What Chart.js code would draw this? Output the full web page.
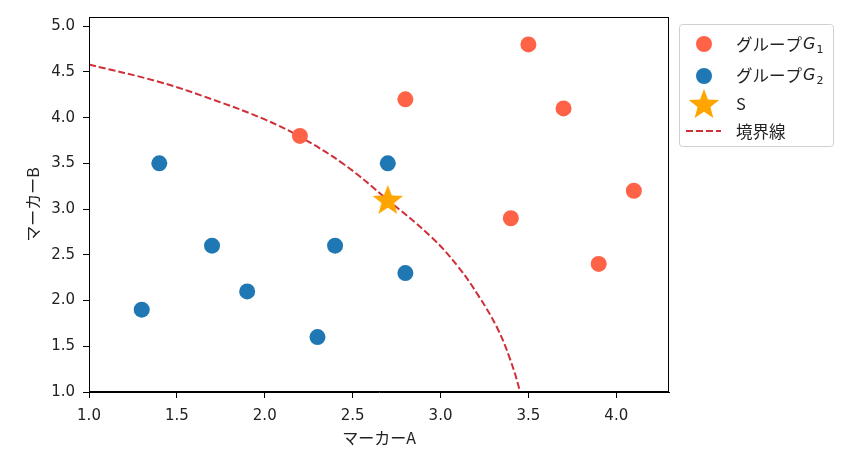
<!DOCTYPE html>
<html>
<head>
<meta charset="utf-8">
<script src="https://cdn.jsdelivr.net/npm/chart.js@4"></script>
<style>
  html, body { margin: 0; padding: 0; background: #fff; }
  #wrap { width: 841px; height: 459px; }
</style>
</head>
<body>
<div id="wrap"><canvas id="scatter"></canvas></div>
<script>
// data
var g1X = [2.2, 2.8, 3.5, 3.7, 4.1, 3.4, 3.9];
var g1Y = [3.8, 4.2, 4.8, 4.1, 3.2, 2.9, 2.4];
var g2X = [1.4, 1.3, 1.7, 1.9, 2.3, 2.4, 2.7, 2.8];
var g2Y = [3.5, 1.9, 2.6, 2.1, 1.6, 2.6, 3.5, 2.3];
var sX = [2.7];
var sY = [3.1];
// boundary line, points
var lineX = [1.0, 1.4, 1.7, 2.0, 2.2, 2.45, 2.7, 2.95, 3.1, 3.22, 3.32, 3.39, 3.45, 3.47];
var lineY = [4.58, 4.39, 4.20, 3.98, 3.79, 3.49, 3.10, 2.69, 2.37, 2.04, 1.71, 1.39, 1.02, 0.8];
var xTicks = [1.0, 1.5, 2.0, 2.5, 3.0, 3.5, 4.0];
var yTicks = [1.0, 1.5, 2.0, 2.5, 3.0, 3.5, 4.0, 4.5, 5.0];
var labels = ['グループ', 'グループ', 'S', '境界線'];

var RED = '#ff6347', BLUE = '#1f77b4', ORANGE = '#ffa500', LINE = '#cf2f36';
var CJK = '"Noto Sans CJK JP", "DejaVu Sans", sans-serif';
var TXT = '#222';

function toPts(xs, ys) {
  var out = [];
  for (var i = 0; i < xs.length; i++) out.push({x: xs[i], y: ys[i]});
  return out;
}

function starPath(c, cx, cy, r) {
  var ri = r * 0.42;
  c.beginPath();
  for (var i = 0; i < 10; i++) {
    var rr = i % 2 ? ri : r;
    var a = -Math.PI / 2 + i * Math.PI / 5;
    var px = cx + rr * Math.cos(a), py = cy + rr * Math.sin(a);
    if (i == 0) c.moveTo(px, py); else c.lineTo(px, py);
  }
  c.closePath();
}

// star image used as pointStyle
var starImg = document.createElement('canvas');
starImg.width = 34; starImg.height = 34;
var sc = starImg.getContext('2d');
starPath(sc, 17, 18, 16);
sc.fillStyle = ORANGE;
sc.fill();

// frame (top/right spines) + legend drawn by hand
var framePlugin = {
  id: 'frame',
  afterDraw: function(chart) {
    var c = chart.ctx, a = chart.chartArea;
    c.save();
    c.strokeStyle = '#000';
    c.lineWidth = 1;
    c.strokeRect(a.left + 0.5, a.top + 0.5, a.right - a.left - 1, a.bottom - a.top - 1);

    // legend box
    var bx = 679.5, by = 24.5, bw = 154, bh = 122;
    c.fillStyle = 'rgba(255,255,255,0.8)';
    c.strokeStyle = '#d0d0d0';
    c.beginPath();
    c.roundRect(bx, by, bw, bh, 3);
    c.fill();
    c.stroke();

    c.fillStyle = RED;
    c.beginPath(); c.arc(704, 44, 8, 0, Math.PI * 2); c.fill();
    c.fillStyle = BLUE;
    c.beginPath(); c.arc(704, 76, 8, 0, Math.PI * 2); c.fill();
    starPath(c, 704, 105, 16);
    c.fillStyle = ORANGE; c.fill();
    c.strokeStyle = LINE; c.lineWidth = 2; c.setLineDash([7, 3]);
    c.beginPath(); c.moveTo(686, 131); c.lineTo(721, 131); c.stroke();
    c.setLineDash([]);

    c.fillStyle = TXT;
    c.textBaseline = 'middle';
    var tx = 736;
    var rows = [45, 76, 104, 132];
    for (var i = 0; i < labels.length; i++) {
      c.font = '16.5px ' + CJK;
      c.fillText(labels[i], tx, rows[i]);
      if (i < 2) {
        var w = c.measureText(labels[i]).width;
        c.font = 'italic 16px "DejaVu Sans"';
        c.fillText('G', tx + w + 1, rows[i]);
        var gw = c.measureText('G').width;
        c.font = '11px "DejaVu Sans"';
        c.fillText(String(i + 1), tx + w + gw + 2, rows[i] + 5);
      }
    }
    c.restore();
  }
};

var tickFont = {family: '"DejaVu Sans", sans-serif', size: 15};
var titleFont = {family: CJK, size: 16};

new Chart(document.getElementById('scatter'), {
  type: 'scatter',
  data: {
    datasets: [
      {label: 'G1', data: toPts(g1X, g1Y), backgroundColor: RED, borderWidth: 0, pointRadius: 8, pointHoverRadius: 8},
      {label: 'G2', data: toPts(g2X, g2Y), backgroundColor: BLUE, borderWidth: 0, pointRadius: 8, pointHoverRadius: 8},
      {label: 'S', data: toPts(sX, sY), pointStyle: starImg, pointRadius: 16},
      {label: '境界線', type: 'line', data: toPts(lineX, lineY), borderColor: LINE, borderWidth: 2,
       borderDash: [7, 3], pointRadius: 0, fill: false, tension: 0.4, showLine: true}
    ]
  },
  options: {
    responsive: true,
    maintainAspectRatio: false,
    animation: false,
    layout: {padding: {top: 15, right: 172, left: 0, bottom: 0}},
    plugins: {legend: {display: false}, tooltip: {enabled: false}},
    scales: {
      x: {
        type: 'linear', min: 1.0, max: 4.3,
        afterBuildTicks: function(s) { s.ticks = xTicks.map(function(v) { return {value: v}; }); },
        afterFit: function(s) { s.height = 67; },
        grid: {drawOnChartArea: false, drawTicks: true, tickLength: 6, color: '#000'},
        border: {display: true, color: '#000'},
        ticks: {font: tickFont, color: TXT, padding: 9, maxRotation: 0,
          callback: function(v) { return v.toFixed(1); }},
        title: {display: true, text: 'マーカーA', font: titleFont, color: TXT, padding: {top: 0, bottom: 11}}
      },
      y: {
        type: 'linear', min: 1.0, max: 5.1,
        afterBuildTicks: function(s) { s.ticks = yTicks.map(function(v) { return {value: v}; }); },
        afterFit: function(s) { s.width = 89; },
        grid: {drawOnChartArea: false, drawTicks: true, tickLength: 6, color: '#000'},
        border: {display: true, color: '#000'},
        ticks: {font: tickFont, color: TXT, padding: 8,
          callback: function(v) { return v.toFixed(1); }},
        title: {display: true, text: 'マーカーB', font: titleFont, color: TXT, padding: {top: 23, bottom: 0}}
      }
    }
  },
  plugins: [framePlugin]
});
</script>
</body>
</html>
